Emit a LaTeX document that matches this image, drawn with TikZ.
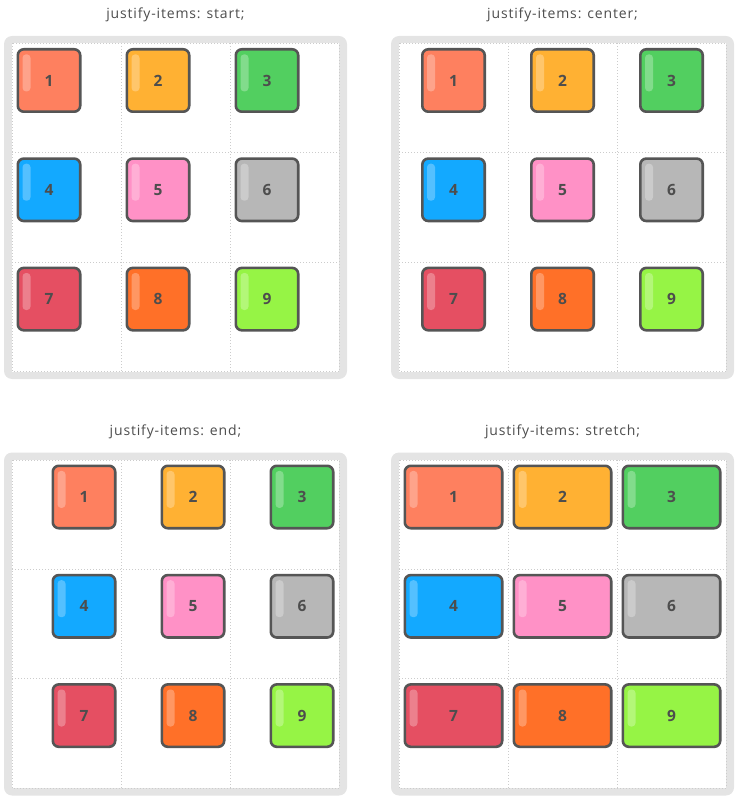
\documentclass[tikz,border=0pt]{standalone}
\usepackage{fontspec}
\setmainfont{Open Sans}
\definecolor{frameg}{HTML}{E4E4E4}
\definecolor{gridg}{HTML}{CCCCCC}
\definecolor{edge}{HTML}{555555}
\definecolor{inkg}{HTML}{4D4D4D}
\definecolor{c1}{HTML}{FE805F}
\definecolor{c2}{HTML}{FFB133}
\definecolor{c3}{HTML}{52CF60}
\definecolor{c4}{HTML}{13A9FF}
\definecolor{c5}{HTML}{FF91C6}
\definecolor{c6}{HTML}{B7B7B7}
\definecolor{c7}{HTML}{E54F62}
\definecolor{c8}{HTML}{FF7028}
\definecolor{c9}{HTML}{96F445}
\begin{document}
\begin{tikzpicture}[x=1pt, y=-1pt,
    heading/.style={text=inkg, font=\fontsize{14}{14}\selectfont\addfontfeature{LetterSpace=6}, inner sep=0pt},
    gridline/.style={gridg, line width=.8pt, dash pattern=on .8pt off 2.2pt},
    gridbox/.style={draw=edge, line width=2.6pt, rounded corners=6pt, inner sep=0pt,
        minimum height=62.4pt, text=inkg, font=\fontsize{15.5}{15.5}\selectfont\bfseries}]
    \useasboundingbox (0,0) rectangle (737,799);

    % 四个面板: 外框左上角 / 对齐偏移 / 项目宽度 / 标题
    \foreach \px/\py/\dx/\w/\lab [count=\p] in {4/36/4.5/65/start, 391/36/22/65/center,
                                               4/452.5/39.5/65/end, 391/452.5/4.5/100/stretch} {
        % 灰色外框与白色网格区
        \fill[frameg, rounded corners=8pt] (\px,\py) rectangle ++(343,343);
        \fill[white] (\px+8,\py+7.5) rectangle ++(327,328);
        \draw[gridline] (\px+8,\py+7.5) rectangle ++(327,328);
        \foreach \k in {1,2} {
            \draw[gridline] (\px+8+109*\k,\py+7.5) -- ++(0,328);
            \draw[gridline] (\px+8,\py+7.5+109.3*\k) -- ++(327,0);
        }

        % 标题
        \node[heading] (title\p) at (\px+171.5,\py-21) {justify-items: \lab;};

        % 九个项目
        \foreach \n/\col in {1/c1, 2/c2, 3/c3, 4/c4, 5/c5, 6/c6, 7/c7, 8/c8, 9/c9} {
            \pgfmathtruncatemacro{\c}{mod(\n-1,3)}
            \pgfmathtruncatemacro{\r}{div(\n-1,3)}
            \node[gridbox, fill=\col, minimum width=\w pt-2.6pt] (item\p-\n)
                at (\px+8+109*\c+\dx+\w/2,\py+12+109.3*\r+32.5) {\n};
            % 高光条
            \fill[white, opacity=.28, rounded corners=3.5pt]
                ([shift={(6,6.4)}]item\p-\n.north west) rectangle ++(8,37);
        }
    }
\end{tikzpicture}
\end{document}
